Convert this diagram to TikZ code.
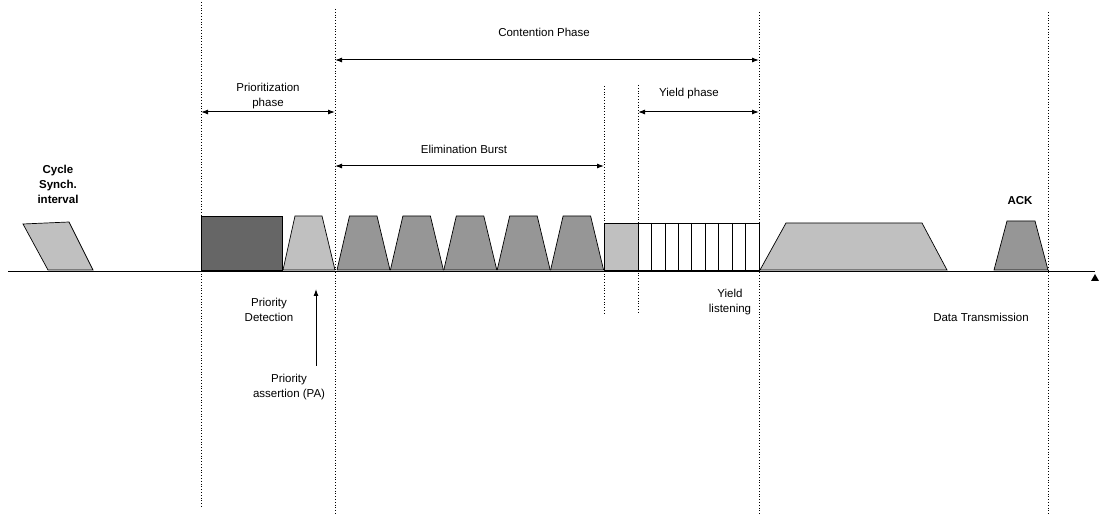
\documentclass[tikz,border=0pt]{standalone}
\usepackage{fontspec}
\setmainfont{Liberation Sans}
\usetikzlibrary{arrows.meta}

\definecolor{lightgr}{HTML}{C0C0C0}
\definecolor{midgr}{HTML}{969696}
\definecolor{darkgr}{HTML}{666666}

\tikzset{
  lbl/.style={font=\fontsize{11.5}{15}\selectfont, align=center, inner sep=0pt},
  boldlbl/.style={font=\fontsize{11.5}{15}\selectfont\bfseries, align=center, inner sep=0pt},
  guide/.style={line width=0.8pt, dash pattern=on 0.8pt off 2pt},
  span/.style={{Latex[length=7pt,width=5pt]}-{Latex[length=7pt,width=5pt]}, line width=1pt},
  pulse/.style={draw, line width=0.7pt},
}

\begin{document}
\begin{tikzpicture}[x=1pt,y=-1pt]
  \useasboundingbox (0,0) rectangle (1101,518);

  % phase boundaries
  \draw[guide] (201,2) -- (201,508);
  \draw[guide] (335,9) -- (335,515);
  \draw[guide] (604,86) -- (604,313);
  \draw[guide] (638,85) -- (638,313);
  \draw[guide] (759,12) -- (759,515);
  \draw[guide] (1048,12) -- (1048,515);

  % time axis
  \draw[line width=1pt] (8,272) -- (1095,272);
  \fill (1091,281) -- (1099,281) -- (1095,274) -- cycle;

  % cycle synch
  \draw[pulse, fill=lightgr] (23,224) -- (69,222) -- (93,270) -- (48,270) -- cycle;
  \node[boldlbl] (sync) at (58,184) {Cycle\\Synch.\\interval};

  % prioritization
  \draw[pulse, fill=darkgr] (201,216) rectangle (282,270);
  \draw[pulse, fill=lightgr] (283,270) -- (295,216) -- (322,216) -- (335,270) -- cycle;

  % elimination bursts
  \foreach \i in {0,...,4} {
    \pgfmathsetmacro\xa{337+53.4*\i}
    \draw[pulse, fill=midgr] (\xa,270) -- (\xa+12.5,216) -- (\xa+40,216) -- (\xa+53,270) -- cycle;
  }

  % yield
  \draw[pulse, fill=lightgr] (604,223) rectangle (638,270);
  \draw[pulse, fill=white] (638,223) rectangle (759,270);
  \foreach \k in {1,...,8}
    \draw[line width=0.7pt] (638+13.44*\k,223) -- (638+13.44*\k,270);

  % data and ack
  \draw[pulse, fill=lightgr] (760,270) -- (786,223) -- (922,223) -- (947,270) -- cycle;
  \draw[pulse, fill=midgr] (994,270) -- (1007,221) -- (1035,221) -- (1048,270) -- cycle;
  \node[boldlbl] (ack) at (1020,201) {ACK};

  % spans
  \coordinate (contA) at (335,60);
  \coordinate (contB) at (759,60);
  \draw[span] (contA) -- (contB);
  \node[lbl] (cont) at (544,32) {Contention Phase};

  \coordinate (prioA) at (201,112);
  \coordinate (prioB) at (335,112);
  \draw[span] (prioA) -- (prioB);
  \node[lbl] (prio) at (268,96) {Prioritization\\phase};

  \coordinate (elimA) at (335,166);
  \coordinate (elimB) at (604,166);
  \draw[span] (elimA) -- (elimB);
  \node[lbl] (elim) at (464,149) {Elimination Burst};

  \coordinate (yldA) at (638,112);
  \coordinate (yldB) at (759,112);
  \draw[span] (yldA) -- (yldB);
  \node[lbl] (yld) at (689,94) {Yield phase};

  % lower labels
  \node[lbl] (pdet) at (269,310) {Priority\\Detection};
  \node[lbl] (pa) at (289,387) {Priority\\assertion (PA)};
  \coordinate (paS) at (316,366);
  \coordinate (paE) at (316,289);
  \draw[-{Latex[length=7pt,width=5pt]}, line width=1pt] (paS) -- (paE);
  \node[lbl] (ylis) at (730,302) {Yield\\listening};
  \node[lbl] (data) at (981,317) {Data Transmission};
\end{tikzpicture}
\end{document}
